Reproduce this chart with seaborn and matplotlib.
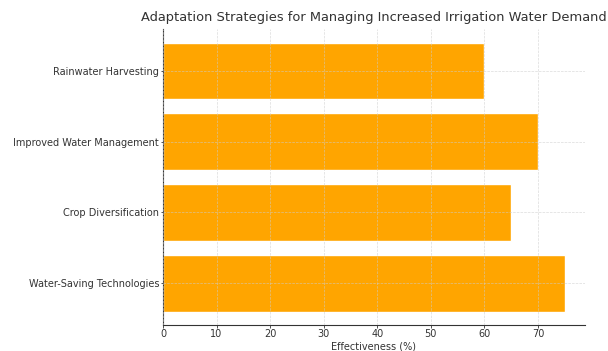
import matplotlib
matplotlib.use("Agg")
import matplotlib.pyplot as plt
import seaborn as sns
import pandas as pd

strategies = ["Rainwater Harvesting", "Improved Water Management",
              "Crop Diversification", "Water-Saving Technologies"]
effectiveness = [60, 70, 65, 75]

df = pd.DataFrame({"Strategy": strategies, "Effectiveness": effectiveness})

sns.set_theme(style="ticks")
plt.rcParams["font.family"] = ["DejaVu Sans"]
plt.rcParams["text.color"] = "#333333"
plt.rcParams["axes.labelcolor"] = "#333333"
plt.rcParams["xtick.color"] = "#333333"
plt.rcParams["ytick.color"] = "#333333"

fig = plt.figure(figsize=(6.08, 3.51), dpi=100)
ax = fig.add_axes([0.268, 0.074, 0.694, 0.843])

sns.barplot(data=df, x="Effectiveness", y="Strategy", orient="h",
            color="orange", saturation=1, width=0.8, ax=ax)

ax.set_xlim(0, 78.75)
ax.set_ylim(3.59, -0.59)
ax.set_xticks(range(0, 80, 10))
ax.set_xlabel("Effectiveness (%)", fontsize=7, labelpad=2)
ax.set_ylabel("")
ax.set_title("Adaptation Strategies for Managing Increased Irrigation Water Demand",
             fontsize=9.4, pad=6)
ax.tick_params(axis="both", labelsize=7, length=1.8, width=0.6, pad=1)
ax.grid(True, linestyle="--", linewidth=0.5, color="#cccccc", alpha=0.7)
ax.set_axisbelow(False)
sns.despine(ax=ax)
for s in ["left", "bottom"]:
    ax.spines[s].set_color("#333333")
    ax.spines[s].set_linewidth(0.8)

fig.savefig("out.png", dpi=100)
